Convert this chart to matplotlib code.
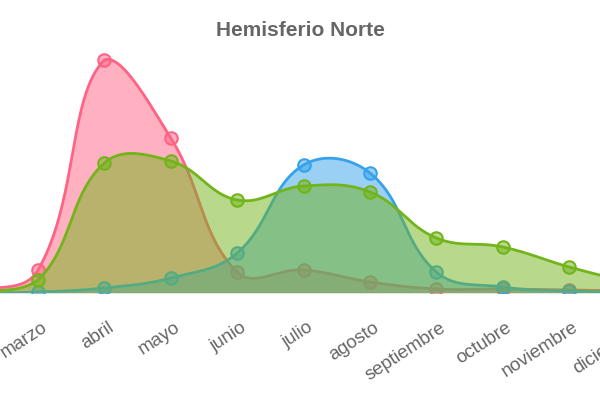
import numpy as np
import matplotlib
matplotlib.use("Agg")
import matplotlib.pyplot as plt
from matplotlib.transforms import ScaledTranslation

months = ["enero", "febrero", "marzo", "abril", "mayo", "junio", "julio",
          "agosto", "septiembre", "octubre", "noviembre", "diciembre"]
pink_vals = [1, 3, 23, 233, 155, 21, 23, 11, 4, 4, 3, 2]
blue_vals = [0, 0, 1, 5, 15, 40, 128, 120, 21, 6, 2, 1]
green_vals = [0, 1, 13, 130, 132, 93, 107, 101, 55, 46, 26, 9]
title = "Hemisferio Norte"

series = [
    (pink_vals, (255/255, 99/255, 132/255)),
    (blue_vals, (54/255, 162/255, 235/255)),
    (green_vals, (114/255, 180/255, 26/255)),
]

W, H = 600, 400
fig = plt.figure(figsize=(W/100, H/100), dpi=100)
ax_bottom_px = 293
ax_h_px = 240
ax = fig.add_axes([0, (H - ax_bottom_px)/H, 1, ax_h_px/H])
XSCALE = 66.4  # pixels per category step
x0 = 2 - 38/XSCALE
ax.set_xlim(x0, x0 + W/XSCALE)
ax.set_ylim(0, ax_h_px)
ax.axis("off")


def spline_curve(prev, cur, nxt, t=0.4):
    d01 = np.hypot(cur[0]-prev[0], cur[1]-prev[1])
    d12 = np.hypot(nxt[0]-cur[0], nxt[1]-cur[1])
    s = d01 + d12
    s01 = d01/s if s else 0
    s12 = d12/s if s else 0
    fa, fb = t*s01, t*s12
    p = (cur[0]-fa*(nxt[0]-prev[0]), cur[1]-fa*(nxt[1]-prev[1]))
    n = (cur[0]+fb*(nxt[0]-prev[0]), cur[1]+fb*(nxt[1]-prev[1]))
    return p, n


def smooth(vals):
    pts = [(i*XSCALE, v) for i, v in enumerate(vals)]
    ctrl = []
    for i, p in enumerate(pts):
        prev = pts[i-1] if i > 0 else p
        nxt = pts[i+1] if i < len(pts)-1 else p
        cp, cn = spline_curve(prev, p, nxt)
        cp = (cp[0], min(max(cp[1], 0), ax_h_px))
        cn = (cn[0], min(max(cn[1], 0), ax_h_px))
        ctrl.append((cp, cn))
    xs, ys = [], []
    tt = np.linspace(0, 1, 40)
    for i in range(len(pts)-1):
        P0 = np.array(pts[i]); P1 = np.array(ctrl[i][1])
        P2 = np.array(ctrl[i+1][0]); P3 = np.array(pts[i+1])
        b = ((1-tt)**3)[:, None]*P0 + (3*(1-tt)**2*tt)[:, None]*P1 + \
            (3*(1-tt)*tt**2)[:, None]*P2 + (tt**3)[:, None]*P3
        xs.extend(b[:, 0]); ys.extend(b[:, 1])
    return np.array(xs)/XSCALE, np.array(ys)


ax.axhline(0, color="#dddddd", lw=1.2, zorder=0, clip_on=False)
idx = np.arange(len(months))
for z, (vals, col) in enumerate(series):
    xs, ys = smooth(vals)
    ax.fill_between(xs, 0, ys, color=col, alpha=0.5, lw=0, zorder=1+z*3)
    ax.plot(xs, ys, color=col, lw=2, zorder=2+z*3)
    ax.plot(idx, vals, "o", ms=9, mfc=(*col, 0.5), mec=col, mew=1.5,
            zorder=3+z*3)

off = ScaledTranslation(3/100, -26/100, fig.dpi_scale_trans)
for i, m in enumerate(months):
    ax.text(i, 0, m, transform=ax.transData + off, rotation=33,
            rotation_mode="anchor", ha="right", va="top", fontsize=13.5,
            color="#666666", family="Liberation Sans", clip_on=False)

fig.text(0.5, 1 - 30/H, title, ha="center", va="center", fontsize=15,
         fontweight="bold", color="#666666", family="Liberation Sans")

fig.savefig("out.png", dpi=100)
